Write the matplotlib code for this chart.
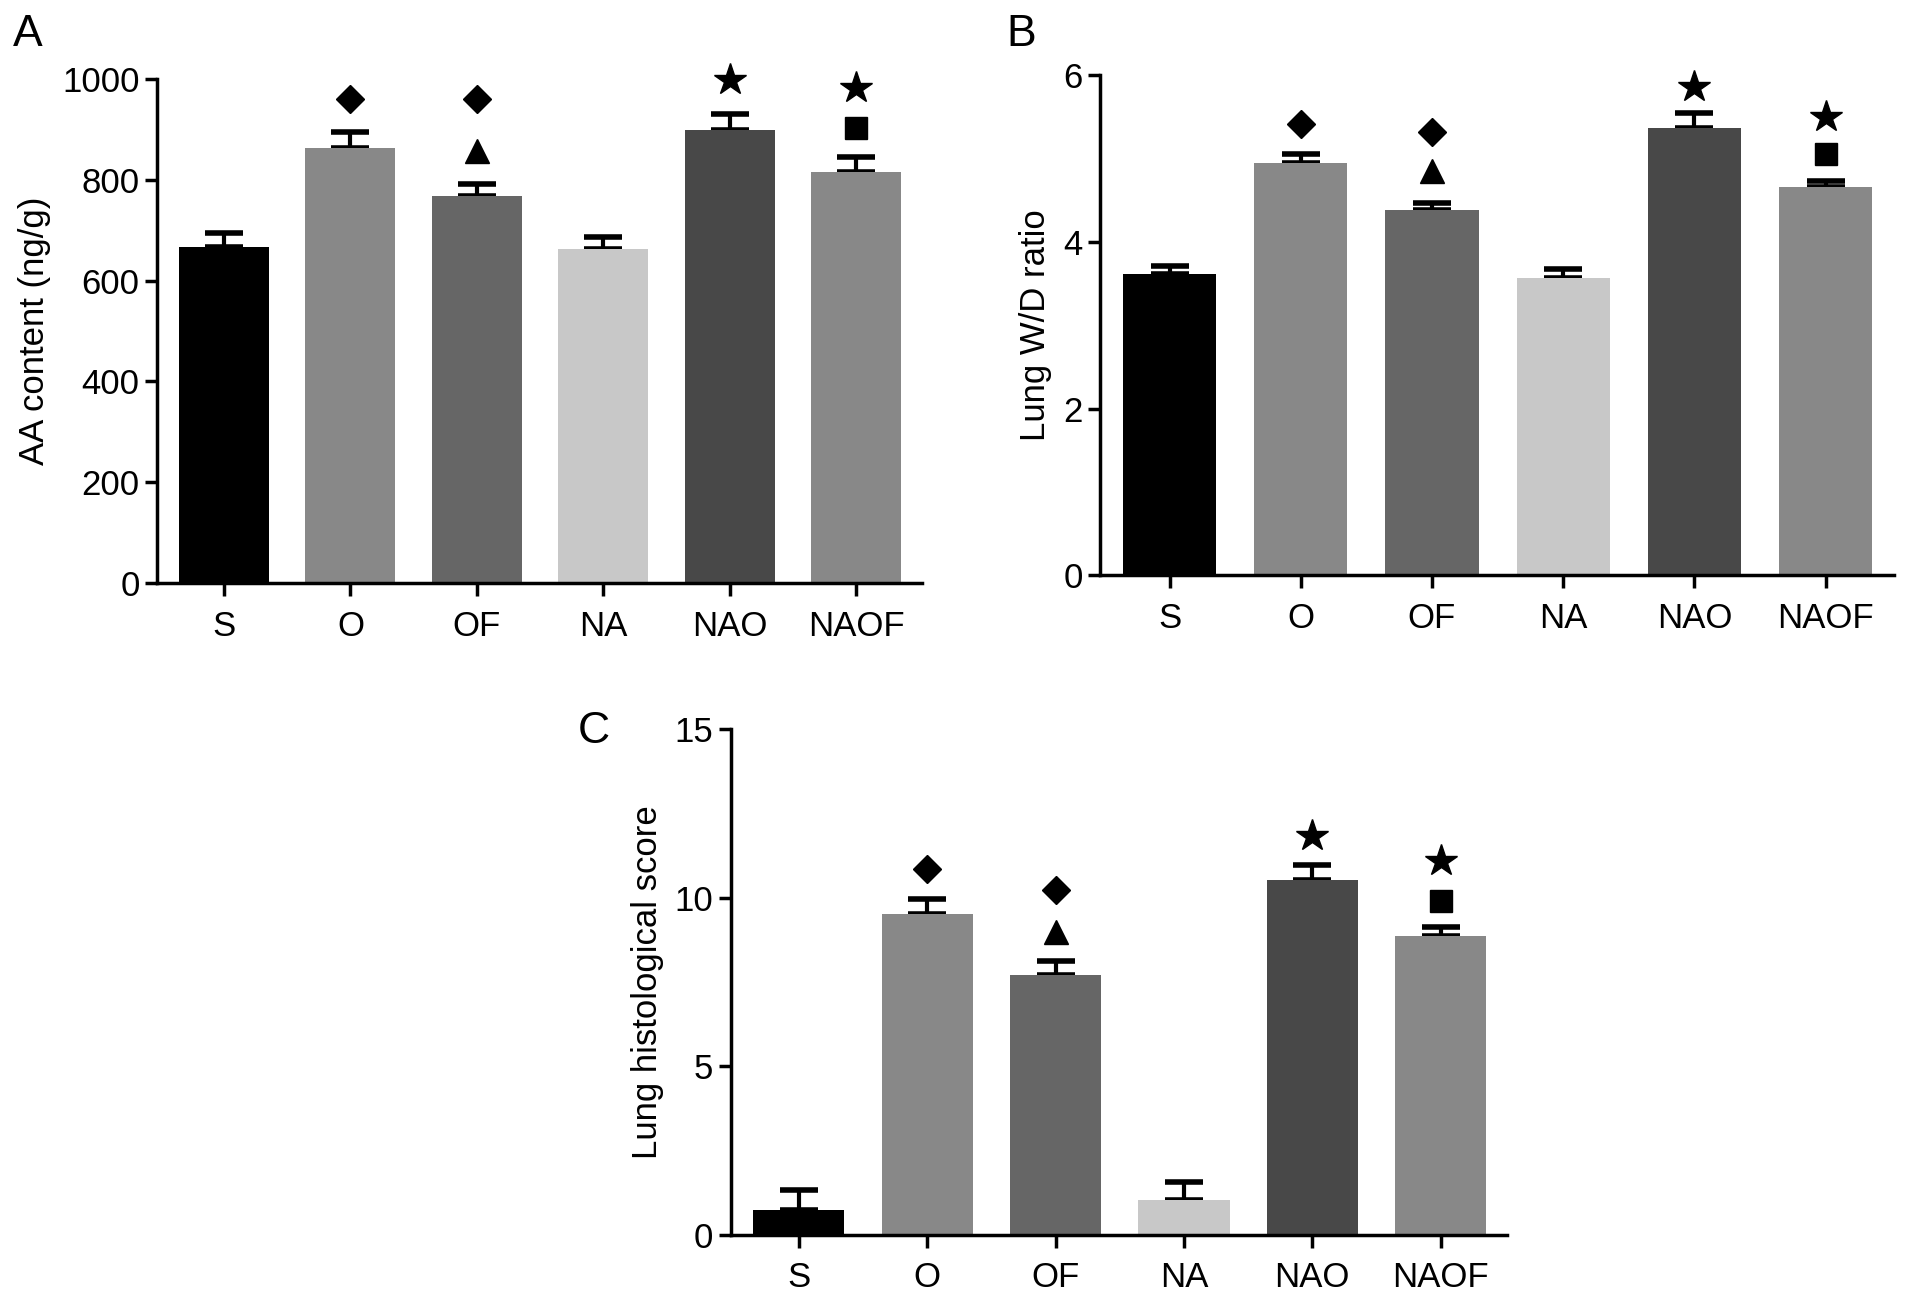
import matplotlib
matplotlib.use("Agg")
import matplotlib.pyplot as plt
import numpy as np

plt.rcParams['font.family'] = ['Liberation Sans', 'DejaVu Sans']

groups = ['S', 'O', 'OF', 'NA', 'NAO', 'NAOF']
colors = ['#000000', '#888888', '#666666', '#c8c8c8', '#484848', '#888888']

# panel A: AA content
aa_mean = [667, 862, 768, 663, 899, 816]
aa_err = [27, 33, 24, 24, 32, 29]
# panel B: lung W/D ratio
wd_mean = [3.61, 4.94, 4.38, 3.57, 5.36, 4.66]
wd_err = [0.10, 0.11, 0.08, 0.10, 0.18, 0.07]
# panel C: histological score
hs_mean = [0.75, 9.52, 7.70, 1.02, 10.54, 8.86]
hs_err = [0.59, 0.43, 0.41, 0.56, 0.44, 0.27]

# significance symbols: (group index, marker, y)
aa_marks = [(1, 'D', 960), (2, 'D', 960), (2, '^', 856),
            (4, '*', 997), (5, '*', 982), (5, 's', 903)]
wd_marks = [(1, 'D', 5.41), (2, 'D', 5.32), (2, '^', 4.85),
            (4, '*', 5.86), (5, '*', 5.50), (5, 's', 5.05)]
hs_marks = [(1, 'D', 10.86), (2, 'D', 10.23), (2, '^', 8.97),
            (4, '*', 11.83), (5, '*', 11.10), (5, 's', 9.91)]

marker_size = {'D': 14, '^': 17, '*': 24, 's': 16}


def draw_panel(ax, means, errs, marks, ymax, yticks, ylabel):
    x = np.arange(len(groups))
    ax.bar(x, means, width=0.71, color=colors, zorder=2)
    ax.errorbar(x, means, yerr=[np.zeros(len(errs)), errs], fmt='none',
                ecolor='black', elinewidth=3, capsize=14, capthick=4, zorder=1)
    for i, m, y in marks:
        ax.plot(i, y, marker=m, color='black', markersize=marker_size[m],
                linestyle='none', zorder=3, clip_on=False)
    ax.set_xlim(-0.53, 5.52)
    ax.set_ylim(0, ymax)
    ax.set_yticks(yticks)
    ax.set_xticks(x)
    ax.set_xticklabels(groups)
    ax.set_ylabel(ylabel, fontsize=25, labelpad=8)
    for s in ['top', 'right']:
        ax.spines[s].set_visible(False)
    for s in ['left', 'bottom']:
        ax.spines[s].set_linewidth(2.5)
    ax.tick_params(axis='both', width=2.5, length=9, labelsize=25, direction='out')
    ax.tick_params(axis='x', pad=10)


fig = plt.figure(figsize=(19.13, 12.93), dpi=100)
ax_a = fig.add_axes([0.082, 0.549, 0.400, 0.390])
ax_b = fig.add_axes([0.575, 0.555, 0.415, 0.387])
ax_c = fig.add_axes([0.382, 0.045, 0.406, 0.391])

draw_panel(ax_a, aa_mean, aa_err, aa_marks, 1000, [0, 200, 400, 600, 800, 1000],
           'AA content (ng/g)')
draw_panel(ax_b, wd_mean, wd_err, wd_marks, 6, [0, 2, 4, 6],
           'Lung W/D ratio')
draw_panel(ax_c, hs_mean, hs_err, hs_marks, 15, [0, 5, 10, 15],
           'Lung histological score')

for letter, lx, ly in [('A', 0.007, 0.973), ('B', 0.526, 0.973), ('C', 0.302, 0.434)]:
    fig.text(lx, ly, letter, fontsize=32, ha='left', va='center')

fig.savefig('out.png', dpi=100, facecolor='white')
